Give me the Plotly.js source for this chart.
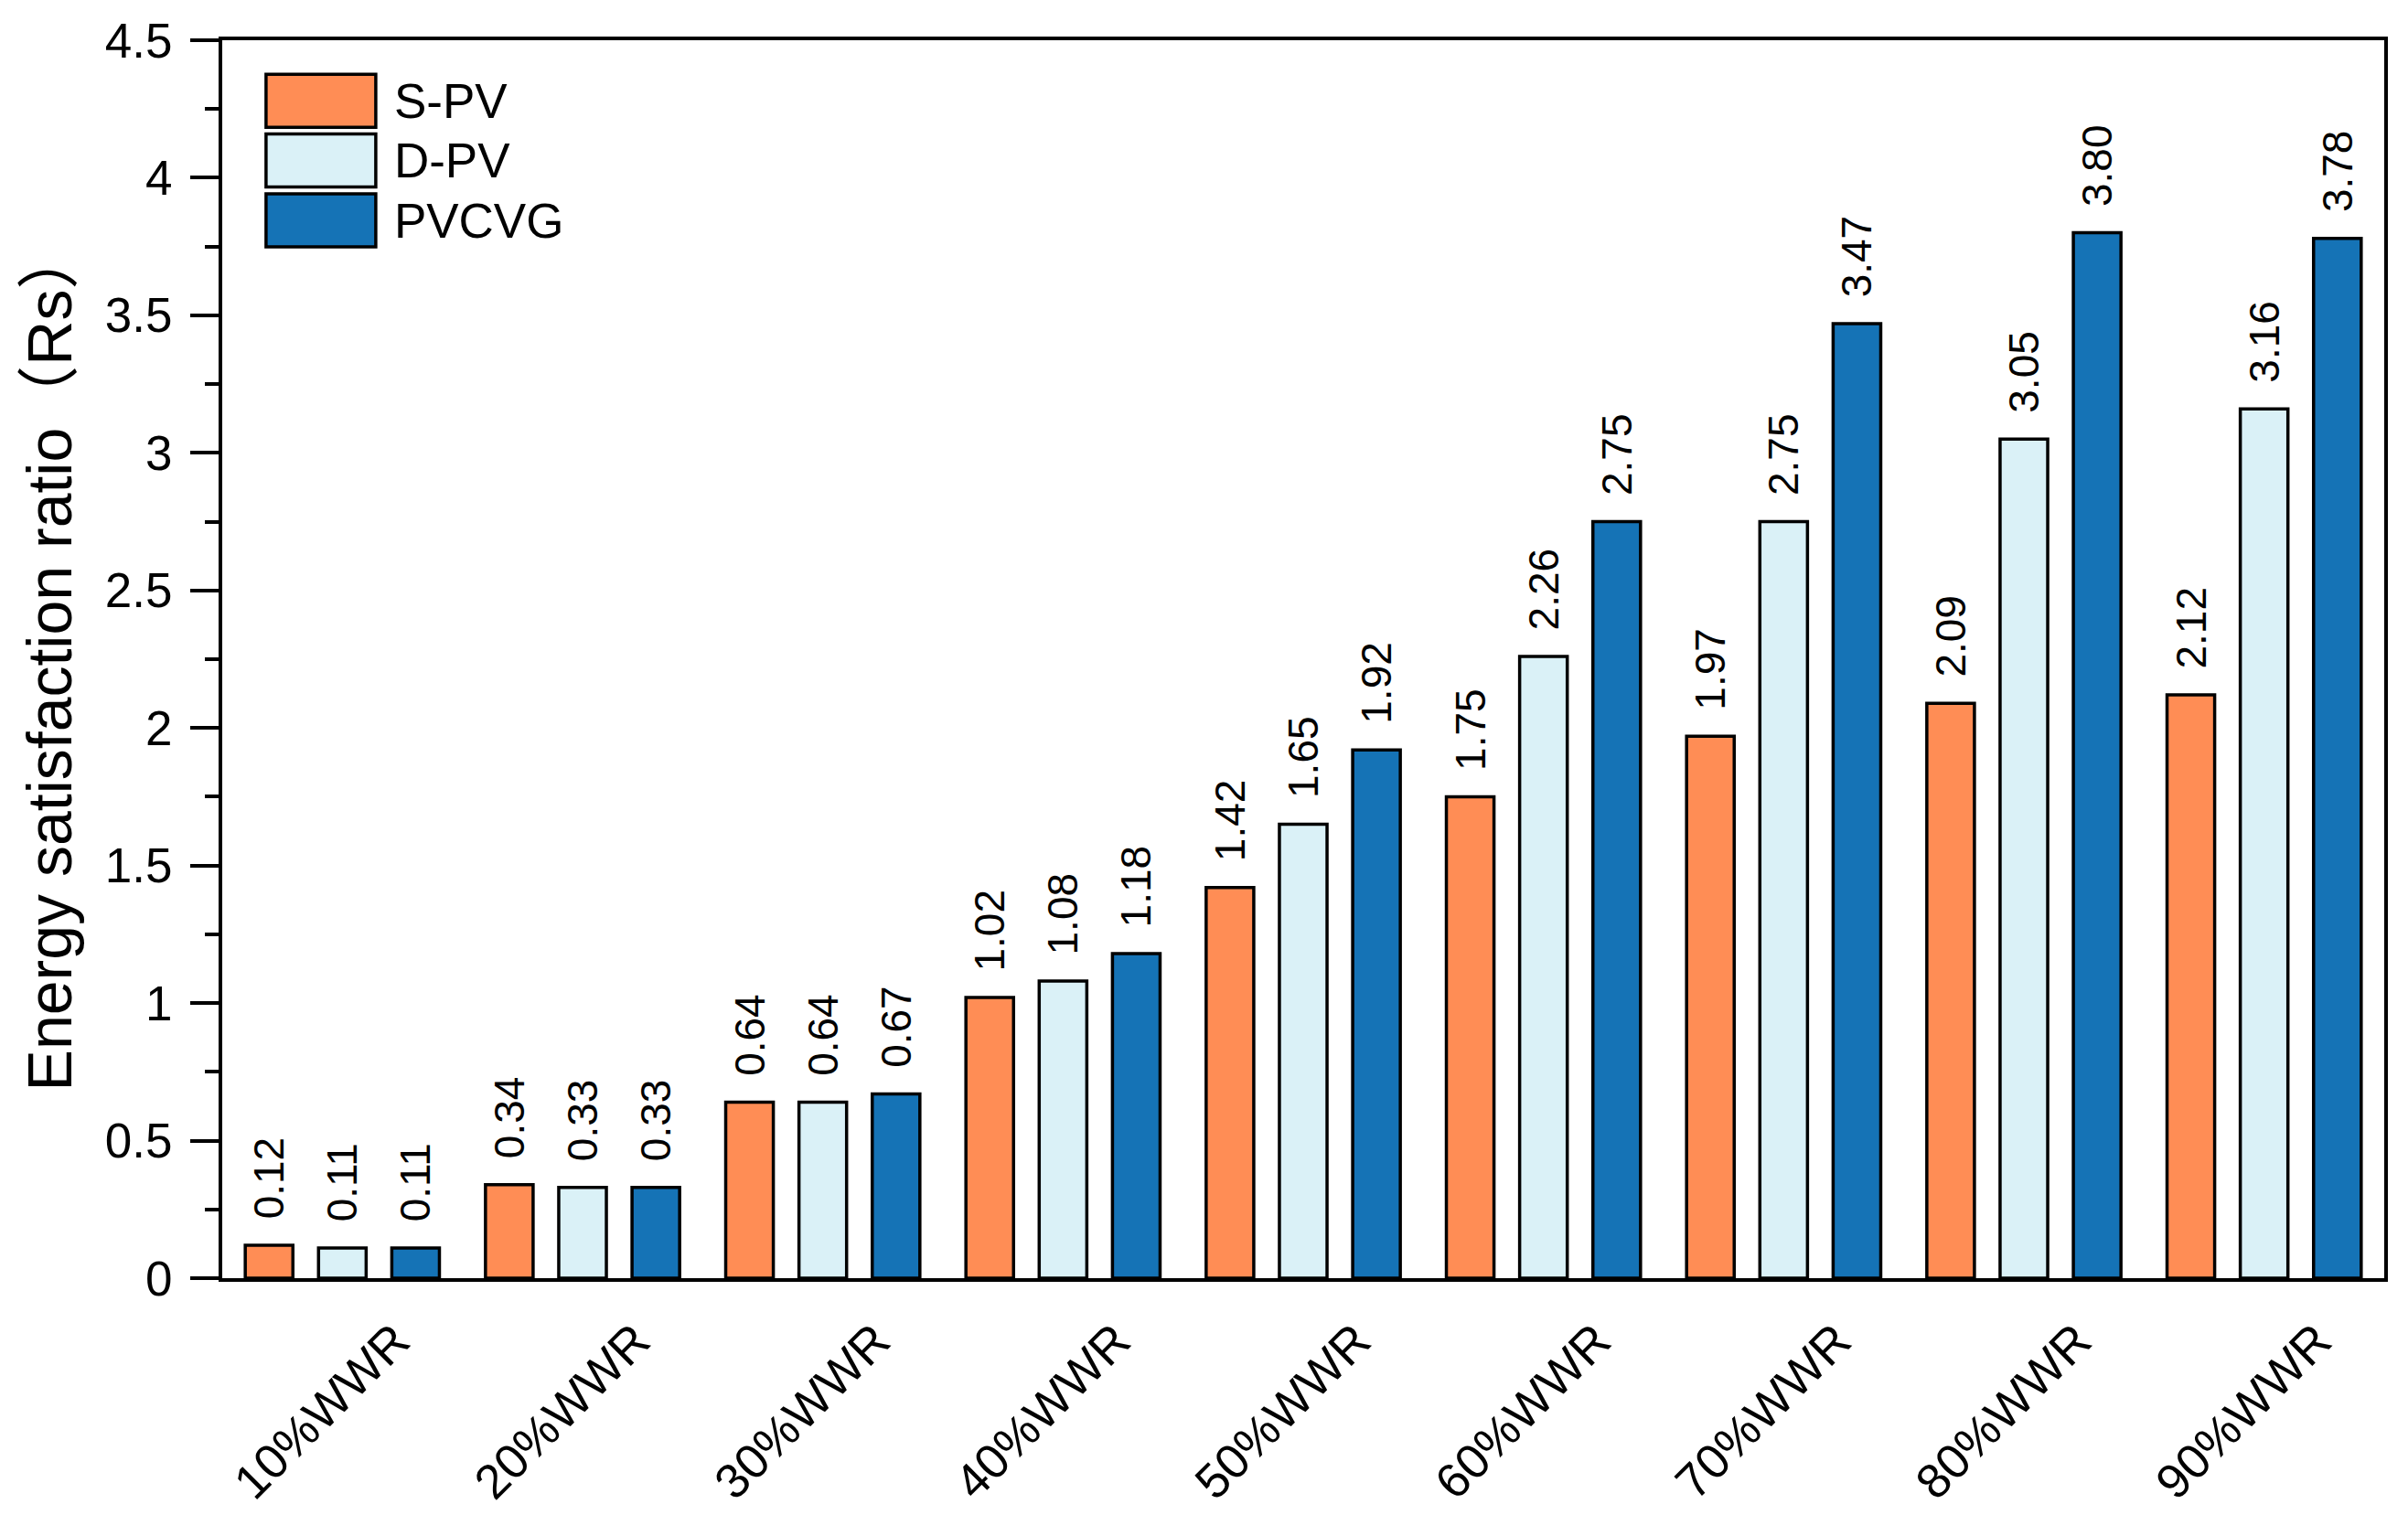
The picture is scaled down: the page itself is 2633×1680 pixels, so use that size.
<!DOCTYPE html>
<html>
<head>
<meta charset="utf-8">
<script src="https://cdn.plot.ly/plotly-3.0.1.min.js"></script>
<style>
  html, body { margin: 0; padding: 0; background: #ffffff; }
  #chart { width: 2633px; height: 1680px; }
</style>
</head>
<body>
<div id="chart"></div>
<script>
// ---- data ----
var categories = ['10%WWR', '20%WWR', '30%WWR', '40%WWR', '50%WWR', '60%WWR', '70%WWR', '80%WWR', '90%WWR'];
var seriesNames = ['S-PV', 'D-PV', 'PVCVG'];
var sPV   = [0.12, 0.34, 0.64, 1.02, 1.42, 1.75, 1.97, 2.09, 2.12];
var dPV   = [0.11, 0.33, 0.64, 1.08, 1.65, 2.26, 2.75, 3.05, 3.16];
var pvcvg = [0.11, 0.33, 0.67, 1.18, 1.92, 2.75, 3.47, 3.80, 3.78];
var yTickValues = [0, 0.5, 1, 1.5, 2, 2.5, 3, 3.5, 4, 4.5];

// ---- styles ----
var colors = ['#FF8D55', '#DAF1F7', '#1573B6'];
var FONT = 'Liberation Sans, Arial, Noto Sans CJK SC, sans-serif';

function makeTrace(name, values, color) {
  return {
    type: 'bar',
    name: name,
    x: categories,
    y: values,
    marker: { color: color, line: { color: '#000000', width: 3.5 } },
    texttemplate: '\u00a0\u00a0%{y:.2f}',
    textposition: 'outside',
    textangle: -90,
    constraintext: 'none',
    cliponaxis: false,
    textfont: { family: FONT, size: 46, color: '#000000' },
    hoverinfo: 'x+y+name'
  };
}

var data = [
  makeTrace(seriesNames[0], sPV, colors[0]),
  makeTrace(seriesNames[1], dPV, colors[1]),
  makeTrace(seriesNames[2], pvcvg, colors[2])
];

var layout = {
  width: 2633,
  height: 1680,
  paper_bgcolor: '#ffffff',
  plot_bgcolor: '#ffffff',
  font: { family: FONT, color: '#000000', size: 50 },
  margin: { l: 243, r: 26, t: 44, b: 282, pad: 0 },
  barmode: 'group',
  bargap: 0.085,
  bargroupgap: 0.35,
  showlegend: true,
  legend: {
    x: 0.0118, y: 0.979, xanchor: 'left', yanchor: 'top',
    bgcolor: 'rgba(0,0,0,0)', borderwidth: 0,
    font: { family: FONT, size: 48, color: '#000000' },
    itemwidth: 150,
    tracegroupgap: 0
  },
  xaxis: {
    type: 'category',
    range: [-0.5, 8.5],
    showline: true, linecolor: '#000000', linewidth: 4, mirror: true,
    ticks: '', showgrid: false, zeroline: false,
    tickangle: -45,
    tickfont: { family: FONT, size: 53, color: '#000000' },
    ticklabelshift: 58,
    ticklabelstandoff: 12
  },
  yaxis: {
    range: [0, 4.5],
    tickvals: yTickValues,
    showline: true, linecolor: '#000000', linewidth: 4, mirror: true,
    ticks: 'outside', ticklen: 31, tickwidth: 4, tickcolor: '#000000',
    minor: { dtick: 0.25, ticks: 'outside', ticklen: 15, tickwidth: 4, tickcolor: '#000000', showgrid: false },
    showgrid: false, zeroline: false,
    tickfont: { family: FONT, size: 53, color: '#000000' },
    ticklabelstandoff: 9,
    title: {
      text: 'Energy satisfaction ratio（Rs）',
      font: { family: FONT, size: 68, color: '#000000' },
      standoff: 15
    }
  }
};

Plotly.newPlot('chart', data, layout, { staticPlot: true, displayModeBar: false }).then(function (gd) {
  // the legend is laid out for 48px text; let the larger text and wide swatches show unclipped
  gd.querySelectorAll('.legend .scrollbox, .legend').forEach(function (g) {
    g.removeAttribute('clip-path');
  });
  gd.querySelectorAll('.legend .traces .legendpoints path').forEach(function (p) {
    p.setAttribute('d', 'M-60,-29h120v58h-120z');
    p.style.strokeWidth = '3.5px';
    p.style.stroke = '#000000';
  });
  gd.querySelectorAll('.legend .traces .legendtext').forEach(function (t) {
    t.style.fontSize = '53px';
  });
});
</script>
</body>
</html>
